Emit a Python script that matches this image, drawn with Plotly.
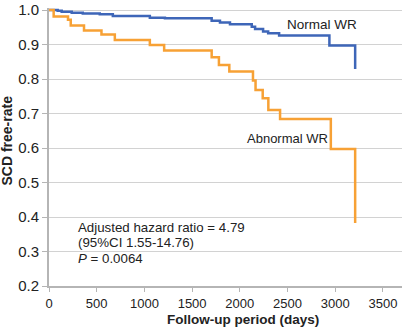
import plotly.graph_objects as go

# Kaplan-Meier estimates of SCD-free rate by worsening renal function (WR) status
normal_days = [0, 91, 133, 238, 354, 532, 669, 1057, 1215, 1705, 1792, 1897,
               2125, 2160, 2244, 2297, 2412, 2939, 3209]
normal_surv = [1.0, 0.9977, 0.995, 0.992, 0.990, 0.988, 0.983, 0.978, 0.9764,
               0.9689, 0.964, 0.959, 0.952, 0.945, 0.938, 0.933, 0.926, 0.897, 0.829]

abnormal_days = [0, 49, 199, 228, 367, 550, 690, 1057, 1207, 1705, 1781, 1890,
                 2138, 2165, 2240, 2299, 2422, 2954, 3209]
abnormal_surv = [1.0, 0.981, 0.972, 0.955, 0.941, 0.929, 0.913, 0.899, 0.883,
                 0.863, 0.841, 0.822, 0.796, 0.768, 0.744, 0.710, 0.684, 0.597, 0.383]

x_ticks = [0, 500, 1000, 1500, 2000, 2500, 3000, 3500]
y_ticks = [0.2, 0.3, 0.4, 0.5, 0.6, 0.7, 0.8, 0.9, 1.0]

stats_lines = ["Adjusted hazard ratio = 4.79", "(95%CI 1.55-14.76)", "<i>P</i> = 0.0064"]

FONT = "Liberation Sans, Arial, Helvetica, sans-serif"
BLUE = "#3e66b8"
ORANGE = "#f7a135"

fig = go.Figure()
fig.add_trace(go.Scatter(x=normal_days, y=normal_surv, mode="lines",
                         line=dict(color=BLUE, width=2.5, shape="hv"),
                         cliponaxis=False, showlegend=False))
fig.add_trace(go.Scatter(x=abnormal_days, y=abnormal_surv, mode="lines",
                         line=dict(color=ORANGE, width=2.5, shape="hv"),
                         cliponaxis=False, showlegend=False))

fig.add_annotation(x=2474, y=0.959, text="Normal WR", showarrow=False,
                   xanchor="left", yanchor="middle", font=dict(size=13.5, color="#222"))
fig.add_annotation(x=2054, y=0.629, text="Abnormal WR", showarrow=False,
                   xanchor="left", yanchor="middle", font=dict(size=13, color="#222"))

stats_y = [0.370, 0.327, 0.280]
for txt, yy in zip(stats_lines, stats_y):
    fig.add_annotation(x=280, y=yy, text=txt, showarrow=False,
                       xanchor="left", yanchor="middle",
                       font=dict(size=13.3, color="#222"))

# axis titles placed in paper coordinates
fig.add_annotation(x=0.55, y=-0.119, xref="paper", yref="paper",
                   text="<b>Follow-up period (days)</b>", showarrow=False,
                   xanchor="center", yanchor="middle",
                   font=dict(size=13.5, color="#222"))
fig.add_annotation(x=-0.1176, y=0.525, xref="paper", yref="paper",
                   text="<b>SCD free-rate</b>", showarrow=False, textangle=-90,
                   xanchor="center", yanchor="middle",
                   font=dict(size=14, color="#222"))

fig.update_layout(
    width=403, height=327,
    margin=dict(l=49, r=1, t=6, b=41),
    paper_bgcolor="white", plot_bgcolor="white",
    font=dict(family=FONT, size=13, color="#222"),
    xaxis=dict(range=[0, 3700], tickvals=x_ticks,
               showgrid=False, zeroline=False,
               showline=True, linecolor="#b5b5b5", linewidth=2,
               ticks="outside", ticklen=4, tickcolor="#b5b5b5",
               tickfont=dict(size=13)),
    yaxis=dict(range=[0.2, 1.006], tickvals=y_ticks, tickformat=".1f",
               showgrid=True, gridcolor="#d2d2d2", gridwidth=1, zeroline=False,
               showline=True, linecolor="#b5b5b5", linewidth=2,
               ticks="outside", ticklen=5, tickcolor="#b5b5b5",
               ticklabeloverflow="allow",
               tickfont=dict(size=15)),
)

fig.write_html("out.html")
